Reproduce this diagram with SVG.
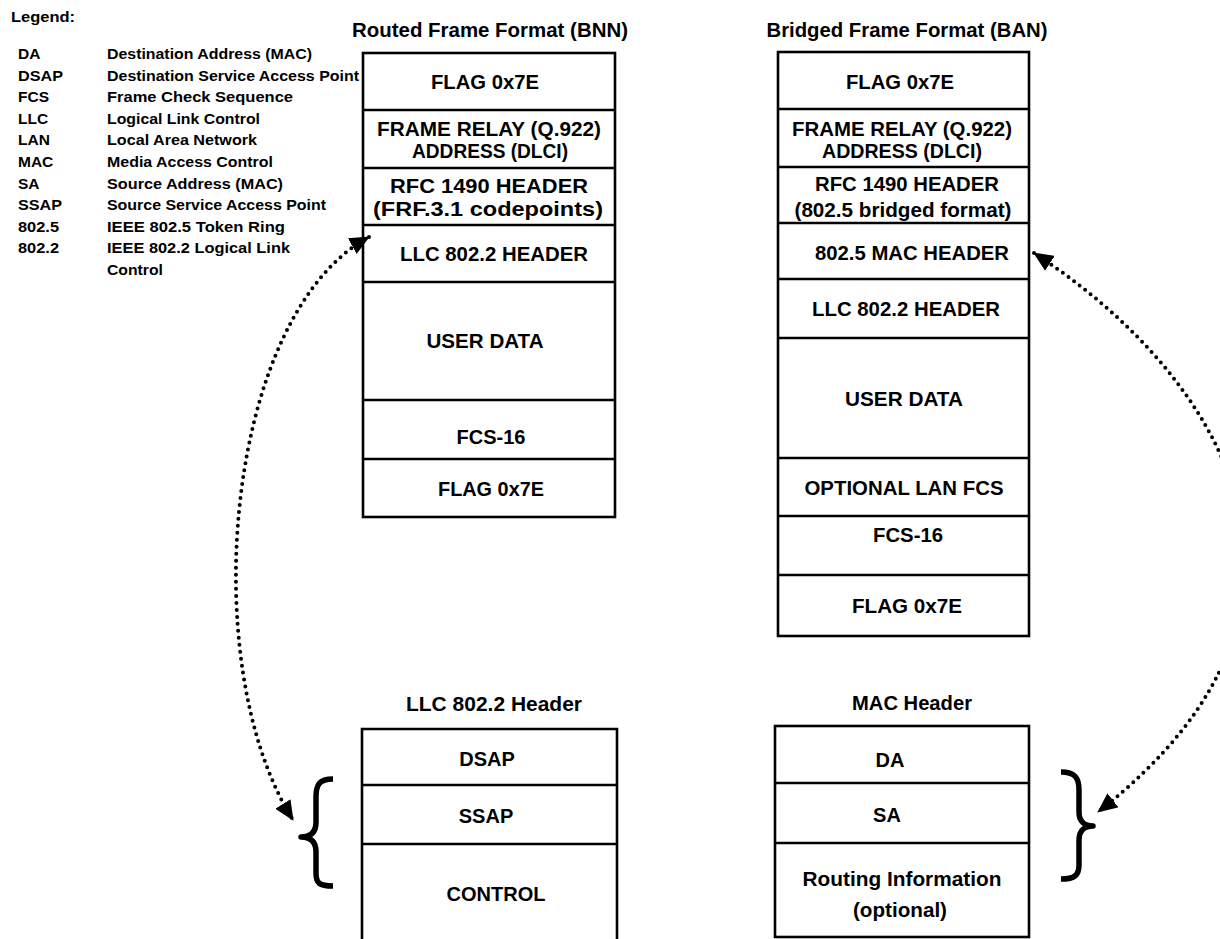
<svg xmlns="http://www.w3.org/2000/svg" width="1220" height="939" viewBox="0 0 1220 939">
<style>
.t{font-family:"Liberation Sans",Arial,Helvetica,sans-serif;font-weight:bold;fill:#000}
.lg{font-size:15.5px}
.hd{font-size:19.5px;text-anchor:middle}
.c{font-size:20px;text-anchor:middle}
.box{fill:#fff;stroke:#000;stroke-width:2.6}
.ln{stroke:#000;stroke-width:2.6;fill:none}
.dot{fill:none;stroke:#000;stroke-width:4;stroke-linecap:round;stroke-dasharray:0 7}
.brace{fill:none;stroke:#000;stroke-width:5.5;stroke-linejoin:round}
</style>
<defs>
<marker id="ah" viewBox="0 0 20 18" refX="19" refY="9" markerWidth="20" markerHeight="18" markerUnits="userSpaceOnUse" orient="auto-start-reverse">
<path d="M0,0 L20,9 L0,18 z" fill="#000"/>
</marker>
</defs>
<rect width="1220" height="939" fill="#fff"/>

<g id="legend">
<text class="t lg" x="11" y="22" textLength="64" lengthAdjust="spacingAndGlyphs">Legend:</text>
<text class="t lg" x="18" y="59">DA</text>
<text class="t lg" x="107" y="59" textLength="205" lengthAdjust="spacingAndGlyphs">Destination Address (MAC)</text>
<text class="t lg" x="18" y="80.6" textLength="45" lengthAdjust="spacingAndGlyphs">DSAP</text>
<text class="t lg" x="107" y="80.6" textLength="252" lengthAdjust="spacingAndGlyphs">Destination Service Access Point</text>
<text class="t lg" x="18" y="102.2">FCS</text>
<text class="t lg" x="107" y="102.2" textLength="186" lengthAdjust="spacingAndGlyphs">Frame Check Sequence</text>
<text class="t lg" x="18" y="123.8">LLC</text>
<text class="t lg" x="107" y="123.8" textLength="153" lengthAdjust="spacingAndGlyphs">Logical Link Control</text>
<text class="t lg" x="18" y="145.4">LAN</text>
<text class="t lg" x="107" y="145.4" textLength="150" lengthAdjust="spacingAndGlyphs">Local Area Network</text>
<text class="t lg" x="18" y="167">MAC</text>
<text class="t lg" x="107" y="167" textLength="166" lengthAdjust="spacingAndGlyphs">Media Access Control</text>
<text class="t lg" x="18" y="188.6">SA</text>
<text class="t lg" x="107" y="188.6" textLength="176" lengthAdjust="spacingAndGlyphs">Source Address (MAC)</text>
<text class="t lg" x="18" y="210.2" textLength="44" lengthAdjust="spacingAndGlyphs">SSAP</text>
<text class="t lg" x="107" y="210.2" textLength="219" lengthAdjust="spacingAndGlyphs">Source Service Access Point</text>
<text class="t lg" x="18" y="231.8" textLength="41" lengthAdjust="spacingAndGlyphs">802.5</text>
<text class="t lg" x="107" y="231.8" textLength="178" lengthAdjust="spacingAndGlyphs">IEEE 802.5 Token Ring</text>
<text class="t lg" x="18" y="253.4" textLength="41" lengthAdjust="spacingAndGlyphs">802.2</text>
<text class="t lg" x="107" y="253.4" textLength="183" lengthAdjust="spacingAndGlyphs">IEEE 802.2 Logical Link</text>
<text class="t lg" x="107" y="275" textLength="56" lengthAdjust="spacingAndGlyphs">Control</text>
</g>

<g id="routed-frame">
<text class="t hd" x="490" y="37" textLength="276" lengthAdjust="spacingAndGlyphs">Routed Frame Format (BNN)</text>
<rect class="box" x="363" y="53" width="252" height="464"/>
<g id="r-flag1"><text class="t c" x="485" y="89" textLength="108" lengthAdjust="spacingAndGlyphs">FLAG 0x7E</text></g>
<g id="r-fr"><line class="ln" x1="363" y1="110" x2="615" y2="110"/>
<text class="t c" x="489" y="136" textLength="224" lengthAdjust="spacingAndGlyphs">FRAME RELAY (Q.922)</text>
<text class="t c" x="490" y="158" textLength="156" lengthAdjust="spacingAndGlyphs">ADDRESS (DLCI)</text></g>
<g id="r-rfc"><line class="ln" x1="363" y1="168" x2="615" y2="168"/>
<text class="t c" x="489" y="193" textLength="198" lengthAdjust="spacingAndGlyphs">RFC 1490 HEADER</text>
<text class="t c" x="488" y="216" textLength="230" lengthAdjust="spacingAndGlyphs">(FRF.3.1 codepoints)</text></g>
<g id="r-llc"><line class="ln" x1="363" y1="225" x2="615" y2="225"/>
<text class="t c" x="494" y="261" textLength="188" lengthAdjust="spacingAndGlyphs">LLC 802.2 HEADER</text></g>
<g id="r-data"><line class="ln" x1="363" y1="282" x2="615" y2="282"/>
<text class="t c" x="485" y="348" textLength="117" lengthAdjust="spacingAndGlyphs">USER DATA</text></g>
<g id="r-fcs"><line class="ln" x1="363" y1="400" x2="615" y2="400"/>
<text class="t c" x="491" y="444" textLength="69" lengthAdjust="spacingAndGlyphs">FCS-16</text></g>
<g id="r-flag2"><line class="ln" x1="363" y1="459" x2="615" y2="459"/>
<text class="t c" x="491" y="496" textLength="106" lengthAdjust="spacingAndGlyphs">FLAG 0x7E</text></g>
</g>

<g id="bridged-frame">
<text class="t hd" x="907" y="37" textLength="281" lengthAdjust="spacingAndGlyphs">Bridged Frame Format (BAN)</text>
<rect class="box" x="778" y="52" width="251" height="584"/>
<g id="b-flag1"><text class="t c" x="900" y="89" textLength="108" lengthAdjust="spacingAndGlyphs">FLAG 0x7E</text></g>
<g id="b-fr"><line class="ln" x1="778" y1="109" x2="1029" y2="109"/>
<text class="t c" x="902" y="136" textLength="220" lengthAdjust="spacingAndGlyphs">FRAME RELAY (Q.922)</text>
<text class="t c" x="902" y="158" textLength="160" lengthAdjust="spacingAndGlyphs">ADDRESS (DLCI)</text></g>
<g id="b-rfc"><line class="ln" x1="778" y1="167" x2="1029" y2="167"/>
<text class="t c" x="907" y="191" textLength="184" lengthAdjust="spacingAndGlyphs">RFC 1490 HEADER</text>
<text class="t c" x="903" y="217" textLength="217" lengthAdjust="spacingAndGlyphs">(802.5 bridged format)</text></g>
<g id="b-mac"><line class="ln" x1="778" y1="223" x2="1029" y2="223"/>
<text class="t c" x="912" y="260" textLength="194" lengthAdjust="spacingAndGlyphs">802.5 MAC HEADER</text></g>
<g id="b-llc"><line class="ln" x1="778" y1="279" x2="1029" y2="279"/>
<text class="t c" x="906" y="316" textLength="188" lengthAdjust="spacingAndGlyphs">LLC 802.2 HEADER</text></g>
<g id="b-data"><line class="ln" x1="778" y1="338" x2="1029" y2="338"/>
<text class="t c" x="904" y="406" textLength="118" lengthAdjust="spacingAndGlyphs">USER DATA</text></g>
<g id="b-lanfcs"><line class="ln" x1="778" y1="458" x2="1029" y2="458"/>
<text class="t c" x="904" y="495" textLength="199" lengthAdjust="spacingAndGlyphs">OPTIONAL LAN FCS</text></g>
<g id="b-fcs"><line class="ln" x1="778" y1="516" x2="1029" y2="516"/>
<text class="t c" x="908" y="542" textLength="70" lengthAdjust="spacingAndGlyphs">FCS-16</text></g>
<g id="b-flag2"><line class="ln" x1="778" y1="575" x2="1029" y2="575"/>
<text class="t c" x="907" y="613" textLength="110" lengthAdjust="spacingAndGlyphs">FLAG 0x7E</text></g>
</g>

<g id="llc-header">
<text class="t hd" x="494" y="711" textLength="176" lengthAdjust="spacingAndGlyphs">LLC 802.2 Header</text>
<path class="ln" d="M362,941 V729 H617 V941"/>
<g id="l-dsap"><text class="t c" x="487" y="766">DSAP</text></g>
<g id="l-ssap"><line class="ln" x1="362" y1="785" x2="617" y2="785"/>
<text class="t c" x="486" y="823">SSAP</text></g>
<g id="l-control"><line class="ln" x1="362" y1="844" x2="617" y2="844"/>
<text class="t c" x="496" y="901" textLength="99" lengthAdjust="spacingAndGlyphs">CONTROL</text></g>
</g>

<g id="mac-header">
<text class="t hd" x="912" y="710" textLength="120" lengthAdjust="spacingAndGlyphs">MAC Header</text>
<rect class="box" x="775" y="726" width="254" height="211"/>
<g id="m-da"><text class="t c" x="890" y="767">DA</text></g>
<g id="m-sa"><line class="ln" x1="775" y1="783" x2="1029" y2="783"/>
<text class="t c" x="887" y="822">SA</text></g>
<g id="m-ri"><line class="ln" x1="775" y1="843" x2="1029" y2="843"/>
<text class="t c" x="902" y="886" textLength="199" lengthAdjust="spacingAndGlyphs">Routing Information</text>
<text class="t c" x="900" y="917" textLength="94" lengthAdjust="spacingAndGlyphs">(optional)</text></g>
</g>

<g id="braces">
<path class="brace" d="M333,779 C319,779 316,785 316,797 L316,822 C316,832 311,837 301,837 C311,837 316,842 316,852 L316,873 C316,883 319,886 333,886"/>
<path class="brace" d="M1061,772 C1075,772 1079,778 1079,790 L1079,812 C1079,821 1084,826 1093,826 C1084,826 1079,831 1079,840 L1079,865 C1079,875 1075,879 1061,879"/>
</g>

<g id="connectors">
<path class="dot" d="M369,237 C225,315 195,665 293,820" marker-start="url(#ah)" marker-end="url(#ah)"/>
<path class="dot" d="M1034,253 C1215,370 1370,600 1098,812" marker-start="url(#ah)" marker-end="url(#ah)"/>
</g>
</svg>
